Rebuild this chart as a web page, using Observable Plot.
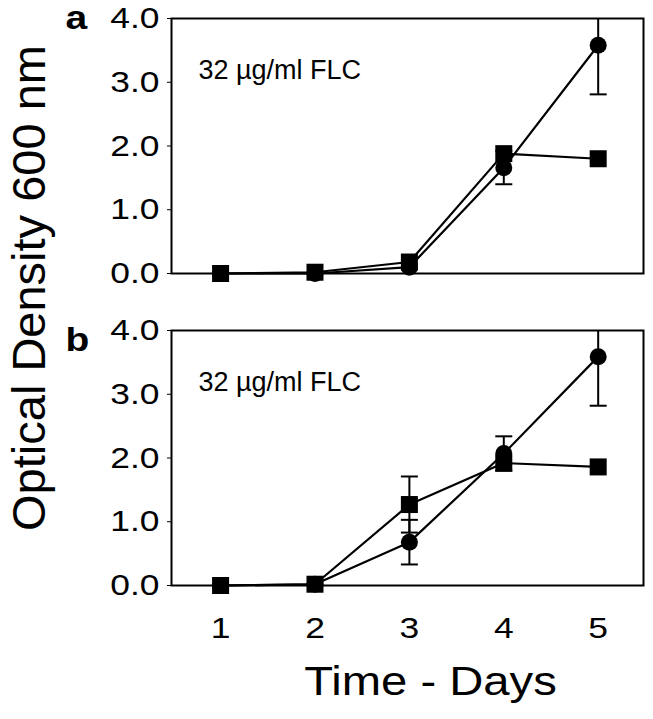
<!DOCTYPE html>
<html>
<head>
<meta charset="utf-8">
<script src="https://cdn.jsdelivr.net/npm/d3@7"></script>
<script src="https://cdn.jsdelivr.net/npm/@observablehq/plot@0.6"></script>
<style>
  body { margin: 0; background: #fff; }
  #chart { width: 653px; height: 719px; }
</style>
</head>
<body>
<div id="chart"></div>
<script>
// ---- data ----
const days = [1, 2, 3, 4, 5];
const panels = ["a", "b"];
const panelNote = "32 µg/ml FLC";
const xTitle = "Time - Days";
const yTitle = "Optical Density 600 nm";
const yTicks = [0, 1, 2, 3, 4];

const circleA    = [0.00, 0.00, 0.10, 1.66, 3.58];
const circleErrA = [0,    0,    0,    0.26, 0.77];
const squareA    = [0.00, 0.02, 0.18, 1.88, 1.80];
const squareErrA = [0,    0,    0,    0,    0];

const circleB    = [0.00, 0.02, 0.68, 2.07, 3.59];
const circleErrB = [0,    0,    0.35, 0.27, 0.77];
const squareB    = [0.00, 0.02, 1.27, 1.92, 1.86];
const squareErrB = [0,    0,    0.44, 0,    0];

const seriesDefs = [
  {panel: "a", series: "circle", values: circleA, errs: circleErrA},
  {panel: "a", series: "square", values: squareA, errs: squareErrA},
  {panel: "b", series: "circle", values: circleB, errs: circleErrB},
  {panel: "b", series: "square", values: squareB, errs: squareErrB}
];
const rows = seriesDefs.flatMap(s => days.map((day, i) => ({
  panel: s.panel, series: s.series, day, value: s.values[i], err: s.errs[i]
})));
const errRows = rows.filter(d => d.err > 0);
const circles = rows.filter(d => d.series === "circle");
const squares = rows.filter(d => d.series === "square");

// horizontal cap symbol for error bars
const capSymbol = {
  draw(context, size) {
    const w = Math.sqrt(size / Math.PI);
    context.moveTo(-w, 0);
    context.lineTo(w, 0);
  }
};

const chart = Plot.plot({
  width: 653,
  height: 719,
  marginLeft: 171,
  marginRight: 10,
  marginTop: 17,
  marginBottom: 133,
  style: {fontFamily: "'Liberation Sans', Arial, sans-serif", fontSize: "30px", color: "black", background: "white"},
  fy: {domain: panels, axis: null, paddingInner: 0.182, paddingOuter: 0},
  x: {domain: [0.48, 5.48], ticks: days, tickFormat: "d", tickSize: 0, tickPadding: 31, label: null},
  y: {domain: [0, 4], ticks: yTicks, tickFormat: ".1f", tickSize: 4, tickPadding: 8, label: null},
  marks: [
    Plot.frame({stroke: "black", strokeWidth: 2}),
    Plot.ruleX(errRows, {fy: "panel", x: "day", y1: d => d.value - d.err, y2: d => d.value + d.err, stroke: "black", strokeWidth: 2, clip: true}),
    Plot.dot(errRows, {fy: "panel", x: "day", y: d => d.value - d.err, symbol: capSymbol, r: 8.5, stroke: "black", strokeWidth: 2, fill: "none", clip: true}),
    Plot.dot(errRows, {fy: "panel", x: "day", y: d => d.value + d.err, symbol: capSymbol, r: 8.5, stroke: "black", strokeWidth: 2, fill: "none", clip: true}),
    Plot.line(rows, {fy: "panel", x: "day", y: "value", z: "series", stroke: "black", strokeWidth: 2.2}),
    Plot.dot(circles, {fy: "panel", x: "day", y: "value", symbol: "circle", r: 8.5, fill: "black", stroke: "none"}),
    Plot.dot(squares, {fy: "panel", x: "day", y: "value", symbol: "square", r: 9.6, fill: "black", stroke: "none"}),
    Plot.text(panels, {fy: d => d, text: () => panelNote, frameAnchor: "top-left", dx: 27, dy: 41, lineAnchor: "top", textAnchor: "start", fontSize: 27}),
    Plot.text([panels[0]], {fy: d => d, text: d => d, frameAnchor: "top-left", dx: -106, dy: 10, lineAnchor: "bottom", textAnchor: "start", fontSize: 33, fontWeight: "bold"}),
    Plot.text([panels[1]], {fy: d => d, text: d => d, frameAnchor: "top-left", dx: -106, dy: 20, lineAnchor: "bottom", textAnchor: "start", fontSize: 33, fontWeight: "bold"}),
    Plot.text([panels[1]], {fy: d => d, text: () => xTitle, frameAnchor: "bottom", dx: 23, dy: 81, lineAnchor: "top", textAnchor: "middle", fontSize: 40}),
    Plot.text([panels[0]], {fy: d => d, text: () => yTitle, frameAnchor: "left", rotate: -90, dx: -142, dy: 142, textAnchor: "middle", lineAnchor: "middle", fontSize: 47})
  ]
});
document.getElementById("chart").appendChild(chart);

// widen the horizontal lettering to match the stretched type of the original
chart.querySelectorAll("text").forEach(t => {
  const s = t.textContent;
  if (s === panelNote || s === yTitle) return;
  const L = t.getComputedTextLength();
  if (L > 0) {
    t.setAttribute("textLength", (L * 1.18).toFixed(1));
    t.setAttribute("lengthAdjust", "spacingAndGlyphs");
  }
});
</script>
</body>
</html>
